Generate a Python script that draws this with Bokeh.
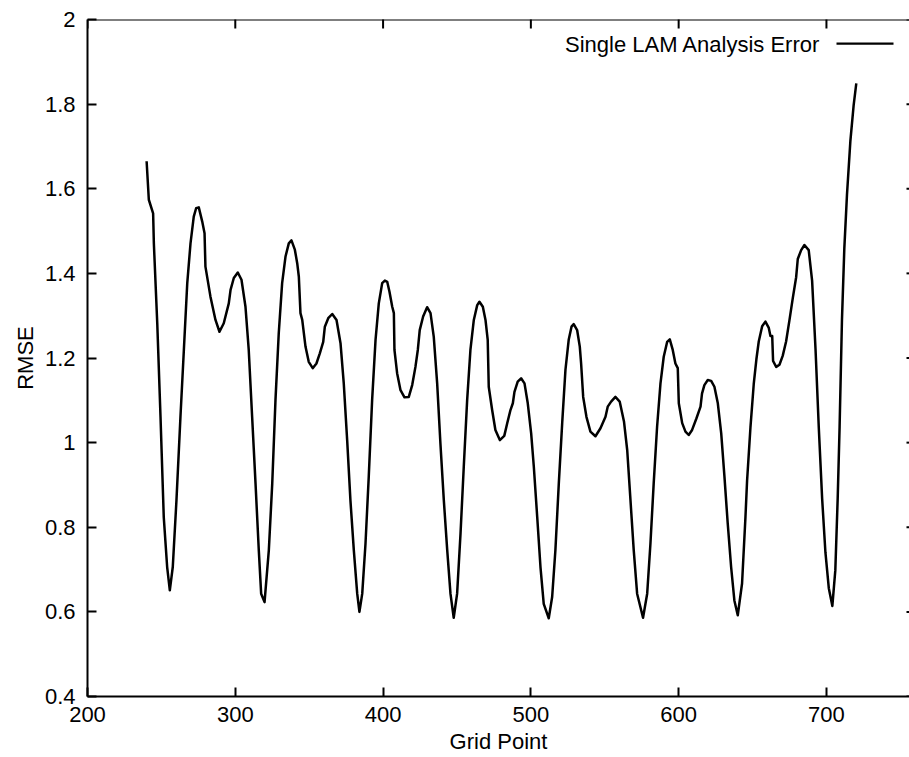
import math
from bokeh.plotting import figure
from bokeh.models import Range1d, FixedTicker, Label, BoxAnnotation, Span
from bokeh.embed import file_html
from bokeh.resources import INLINE

# ---- data ----
grid_point = [
    240.0, 241.5, 244.4, 244.9, 247.2, 249.4, 251.6, 253.9, 255.7, 257.7,
    260.2, 262.9, 265.2, 267.5, 269.7, 271.9, 273.5, 275.3, 277.6, 279.2,
    279.8, 283.2, 286.6, 289.3, 292.2, 295.6, 296.8, 299.0, 301.7, 304.2,
    306.9, 309.1, 311.4, 313.7, 315.9, 317.5, 319.8, 322.7, 325.0, 327.2,
    329.4, 331.7, 334.0, 336.2, 338.0, 340.3, 341.9, 343.0, 344.1, 345.3,
    347.5, 349.7, 352.4, 354.9, 357.2, 359.5, 360.6, 362.9, 365.6, 368.5,
    371.2, 373.4, 375.7, 377.9, 380.2, 382.5, 384.0, 385.9, 388.1, 390.3,
    392.6, 394.9, 397.1, 399.4, 401.2, 402.8, 404.3, 406.2, 407.3, 407.7,
    409.5, 411.8, 414.5, 417.4, 419.7, 421.9, 423.5, 424.8, 427.1, 429.8,
    432.1, 434.3, 436.6, 438.8, 441.1, 443.4, 445.6, 447.8, 450.1, 452.4,
    454.6, 456.9, 459.1, 461.4, 463.7, 465.2, 467.5, 469.3, 470.8, 471.5,
    473.8, 476.0, 479.0, 482.0, 484.0, 486.2, 487.8, 488.9, 491.1, 493.4,
    495.7, 497.9, 500.2, 502.0, 504.3, 506.5, 508.7, 512.1, 514.4, 516.6,
    518.9, 521.2, 523.4, 525.6, 527.5, 529.0, 531.3, 533.1, 534.0, 535.4,
    537.6, 540.3, 543.7, 547.1, 550.5, 552.0, 554.3, 557.2, 560.1, 563.0,
    565.2, 567.4, 569.6, 571.9, 575.9, 578.7, 580.9, 583.1, 585.4, 587.7,
    589.9, 592.2, 594.0, 596.0, 597.8, 599.4, 600.1, 602.4, 604.6, 606.8,
    609.1, 612.0, 614.8, 615.8, 617.4, 619.7, 622.0, 624.2, 626.5, 628.8,
    631.0, 633.2, 635.5, 637.7, 640.0, 642.9, 645.2, 646.3, 648.6, 650.8,
    652.6, 654.2, 656.5, 658.7, 661.0, 662.1, 663.3, 663.9, 666.0, 668.2,
    670.4, 672.7, 675.0, 677.2, 679.5, 680.6, 682.9, 685.1, 688.0, 690.3,
    692.6, 694.8, 697.1, 699.3, 701.6, 704.0, 706.0, 707.6, 708.9, 710.5,
    712.1, 713.9, 716.2, 718.4, 720.2,
]
rmse = [
    1.665, 1.574, 1.542, 1.471, 1.282, 1.061, 0.824, 0.706, 0.651, 0.706,
    0.864, 1.061, 1.219, 1.377, 1.471, 1.534, 1.554, 1.556, 1.523, 1.495,
    1.416, 1.345, 1.290, 1.262, 1.282, 1.329, 1.361, 1.389, 1.402, 1.385,
    1.321, 1.219, 1.061, 0.903, 0.746, 0.643, 0.623, 0.746, 0.903, 1.101,
    1.258, 1.377, 1.440, 1.471, 1.478, 1.456, 1.424, 1.392, 1.306, 1.290,
    1.227, 1.191, 1.176, 1.187, 1.211, 1.238, 1.274, 1.294, 1.304, 1.290,
    1.235, 1.140, 1.006, 0.864, 0.746, 0.643, 0.600, 0.643, 0.761, 0.919,
    1.101, 1.243, 1.329, 1.377, 1.383, 1.380, 1.357, 1.321, 1.306, 1.219,
    1.164, 1.124, 1.107, 1.108, 1.136, 1.179, 1.219, 1.266, 1.298, 1.320,
    1.306, 1.250, 1.140, 0.998, 0.864, 0.746, 0.643, 0.586, 0.643, 0.785,
    0.943, 1.101, 1.219, 1.290, 1.325, 1.333, 1.321, 1.290, 1.243, 1.132,
    1.077, 1.030, 1.006, 1.016, 1.046, 1.077, 1.093, 1.120, 1.144, 1.152,
    1.140, 1.093, 1.022, 0.943, 0.824, 0.706, 0.619, 0.585, 0.635, 0.746,
    0.903, 1.046, 1.172, 1.243, 1.274, 1.280, 1.266, 1.227, 1.187, 1.108,
    1.061, 1.026, 1.015, 1.034, 1.061, 1.085, 1.097, 1.108, 1.097, 1.050,
    0.982, 0.864, 0.746, 0.643, 0.586, 0.643, 0.761, 0.903, 1.037, 1.140,
    1.203, 1.238, 1.244, 1.219, 1.187, 1.176, 1.093, 1.046, 1.026, 1.018,
    1.030, 1.057, 1.085, 1.116, 1.136, 1.148, 1.146, 1.132, 1.093, 1.022,
    0.919, 0.809, 0.706, 0.627, 0.592, 0.667, 0.824, 0.910, 1.037, 1.138,
    1.197, 1.239, 1.275, 1.286, 1.271, 1.252, 1.252, 1.193, 1.179, 1.184,
    1.205, 1.239, 1.290, 1.341, 1.391, 1.434, 1.455, 1.467, 1.455, 1.383,
    1.222, 1.037, 0.867, 0.741, 0.656, 0.614, 0.698, 0.867, 1.037, 1.290,
    1.459, 1.586, 1.713, 1.797, 1.849,
]

x_ticks = [200, 300, 400, 500, 600, 700]
y_ticks = [0.4, 0.6, 0.8, 1.0, 1.2, 1.4, 1.6, 1.8, 2.0]
y_tick_labels = ["0.4", "0.6", "0.8", "1", "1.2", "1.4", "1.6", "1.8", "2"]
series_label = "Single LAM Analysis Error"
x_label = "Grid Point"
y_label = "RMSE"

X_START, X_END = 200, 756.2
Y_START, Y_END = 0.4, 2.0

FONT = "Liberation Sans"
FS = "22px"

p = figure(
    width=909, height=757,
    output_backend="svg", toolbar_location=None,
    x_range=Range1d(X_START, X_END), y_range=Range1d(Y_START, Y_END),
    min_border_left=87, min_border_right=0, min_border_top=19, min_border_bottom=61,
    background_fill_color="white", border_fill_color="white",
)
p.outline_line_color = None
p.grid.visible = False

p.line(grid_point, rmse, line_color="black", line_width=2.5, line_join="round")


def style_axis(ax, ticks):
    ax.ticker = FixedTicker(ticks=ticks)
    ax.major_tick_in = 9
    ax.major_tick_out = 0
    ax.minor_tick_in = 0
    ax.minor_tick_out = 0
    ax.axis_line_width = 2
    ax.axis_line_color = "black"
    ax.major_tick_line_width = 2
    ax.major_tick_line_color = "black"
    ax.major_label_text_font = FONT
    ax.major_label_text_font_size = FS
    ax.major_label_text_color = "black"
    ax.axis_label_text_font = FONT
    ax.axis_label_text_font_size = FS
    ax.axis_label_text_font_style = "normal"
    ax.axis_label_text_color = "black"


xa = p.xaxis[0]
style_axis(xa, x_ticks)
xa.major_label_standoff = 10
xa.axis_label = x_label
xa.axis_label_standoff = 4

ya = p.yaxis[0]
style_axis(ya, y_ticks)
ya.major_label_overrides = dict(zip(y_ticks, y_tick_labels))
ya.major_label_standoff = 12
ya.axis_label = y_label
ya.axis_label_standoff = 4

# top border with inward ticks (gnuplot mirror ticks); glyphs are clipped to the frame,
# so a centred dash shows only its inner half
p.add_layout(Span(location=Y_END, dimension="width", line_color="black", line_width=2))
p.scatter(x=x_ticks, y=[Y_END] * len(x_ticks), marker="dash", size=18,
          angle=math.pi / 2, line_color="black", line_width=2)
# right-hand mirror ticks (the right border itself lies outside the picture)
p.scatter(x=[X_END] * len(y_ticks), y=y_ticks, marker="dash", size=6,
          line_color="black", line_width=2)

# gnuplot-style key: label then line sample, top right
p.add_layout(Label(
    x=733, y=652, x_units="screen", y_units="screen",
    text=series_label, text_align="right", text_baseline="middle",
    text_font=FONT, text_font_size=FS, text_color="black",
))
p.add_layout(BoxAnnotation(
    left=749, right=806, bottom=651.7, top=653.9,
    left_units="screen", right_units="screen",
    bottom_units="screen", top_units="screen",
    fill_color="black", fill_alpha=1.0, line_color=None,
))

open("out.html", "w").write(file_html(p, INLINE))
